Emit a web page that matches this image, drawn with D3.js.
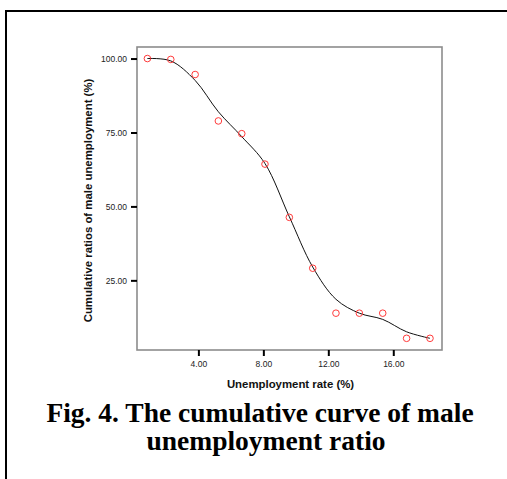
<!DOCTYPE html>
<html>
<head>
<meta charset="utf-8">
<script src="https://cdn.jsdelivr.net/npm/d3@7"></script>
<style>
  html, body { margin: 0; padding: 0; background: #fff; }
  svg { display: block; }
</style>
</head>
<body>
<svg id="chart" width="507" height="479"></svg>
<script>
// Unemployment rate (%) for each group
const rates = [0.86, 2.30, 3.80, 5.23, 6.67, 8.10, 9.60, 11.04, 12.47, 13.91, 15.35, 16.82, 18.26];
// Cumulative ratio of male unemployment (%)
const cumulative = [100.0, 99.7, 94.6, 78.9, 74.6, 64.3, 46.3, 29.1, 13.9, 13.9, 13.9, 5.4, 5.4];
// Smoothed fit evaluated at the same rates
const fitted = [100.0, 99.2, 92.6, 82.0, 73.6, 64.5, 46.5, 29.5, 18.6, 13.9, 11.8, 7.6, 5.4];

const xTicks = [4, 8, 12, 16];
const yTicks = [25, 50, 75, 100];
const xTitle = "Unemployment rate (%)";
const yTitle = "Cumulative ratios of male unemployment (%)";
const captionLines = ["Fig. 4. The cumulative curve of male", "unemployment ratio"];

const svg = d3.select("#chart");

// outer frame of the figure
svg.append("rect")
  .attr("x", 6).attr("y", 11)
  .attr("width", 520).attr("height", 490)
  .attr("fill", "none").attr("stroke", "#000").attr("stroke-width", 2);

const box = { left: 137, top: 47, right: 442, bottom: 350 };

const x = d3.scaleLinear().domain([0.22, 19.0]).range([box.left, box.right]);
const y = d3.scaleLinear().domain([1.45, 103.9]).range([box.bottom, box.top]);

// plot frame
svg.append("rect")
  .attr("x", box.left).attr("y", box.top)
  .attr("width", box.right - box.left).attr("height", box.bottom - box.top)
  .attr("fill", "none").attr("stroke", "#8c8c8c").attr("stroke-width", 1.6);

const sansFont = "Arial, 'Liberation Sans', sans-serif";

// x axis
const xAxis = d3.axisBottom(x).tickValues(xTicks).tickSize(6).tickPadding(5)
  .tickFormat(d3.format(".2f"));
const gx = svg.append("g").attr("transform", `translate(0,${box.bottom})`).call(xAxis);
gx.select(".domain").remove();
gx.selectAll(".tick line").attr("stroke", "#000").attr("stroke-width", 2);
gx.selectAll(".tick text").attr("font-family", sansFont).attr("font-size", 8.5).attr("fill", "#222");

// y axis
const yAxis = d3.axisLeft(y).tickValues(yTicks).tickSize(6).tickPadding(4)
  .tickFormat(d3.format(".2f"));
const gy = svg.append("g").attr("transform", `translate(${box.left},0)`).call(yAxis);
gy.select(".domain").remove();
gy.selectAll(".tick line").attr("stroke", "#000").attr("stroke-width", 2);
gy.selectAll(".tick text").attr("font-family", sansFont).attr("font-size", 8.5).attr("fill", "#222");

// axis titles
svg.append("text")
  .attr("x", 290.5).attr("y", 388)
  .attr("text-anchor", "middle")
  .attr("font-family", sansFont).attr("font-weight", "bold").attr("font-size", 11.4)
  .attr("fill", "#111")
  .text(xTitle);

svg.append("text")
  .attr("transform", "translate(92,200.5) rotate(-90)")
  .attr("text-anchor", "middle")
  .attr("font-family", sansFont).attr("font-weight", "bold").attr("font-size", 11.4)
  .attr("fill", "#111")
  .text(yTitle);

// fitted curve
const pts = rates.map((r, i) => [r, fitted[i]]);
const line = d3.line().x(d => x(d[0])).y(d => y(d[1])).curve(d3.curveCatmullRom.alpha(0.5));
svg.append("path")
  .attr("d", line(pts))
  .attr("fill", "none").attr("stroke", "#111").attr("stroke-width", 1);

// observed points
svg.append("g").selectAll("circle")
  .data(rates.map((r, i) => [r, cumulative[i]]))
  .join("circle")
  .attr("cx", d => x(d[0])).attr("cy", d => y(d[1]))
  .attr("r", 3.3)
  .attr("fill", "none").attr("stroke", "#ff3b3b").attr("stroke-width", 1);

// caption
const caption = svg.append("text")
  .attr("font-family", "'Times New Roman', 'Liberation Serif', serif")
  .attr("font-weight", "bold").attr("font-size", 27.5)
  .attr("fill", "#000")
  .attr("text-anchor", "middle");
caption.append("tspan").attr("x", 260).attr("y", 421.5).text(captionLines[0]);
caption.append("tspan").attr("x", 266).attr("y", 449.5).text(captionLines[1]);
</script>
</body>
</html>
